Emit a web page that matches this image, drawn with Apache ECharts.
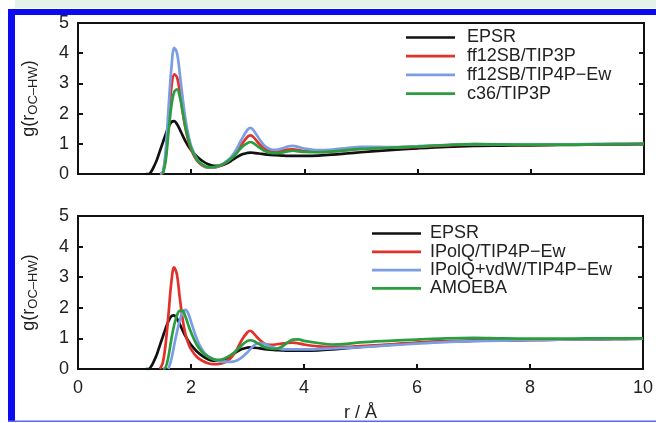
<!DOCTYPE html>
<html>
<head>
<meta charset="utf-8">
<script src="https://cdn.jsdelivr.net/npm/echarts@6/dist/echarts.min.js"></script>
<style>html,body{margin:0;padding:0;background:#fff;}#c{width:656px;height:423px;}</style>
</head>
<body>
<div id="c"></div>
<script>
// r grid (Å)
const r = [1.0,1.2,1.25,1.3,1.35,1.4,1.45,1.5,1.55,1.6,1.65,1.7,1.75,1.8,1.85,1.9,1.95,2.0,2.1,2.2,2.3,2.4,2.5,2.6,2.7,2.8,2.9,3.0,3.05,3.1,3.2,3.3,3.4,3.5,3.6,3.7,3.8,3.9,4.0,4.25,4.5,4.75,5.0,5.5,6.0,6.5,7.0,7.5,8.0,8.5,9.0,9.5,10.0];
const n = null;
// EPSR (both panels)
const gEPSR = [n,0,0,0.1,0.28,0.5,0.78,1.05,1.32,1.56,1.72,1.75,1.65,1.47,1.27,1.08,0.92,0.79,0.58,0.43,0.32,0.27,0.27,0.33,0.43,0.55,0.65,0.70,0.71,0.70,0.68,0.65,0.63,0.62,0.61,0.60,0.60,0.60,0.60,0.61,0.64,0.68,0.72,0.79,0.85,0.90,0.93,0.94,0.95,0.96,0.97,0.98,0.99];
// top panel
const gFF12TIP3P = [n,n,n,n,n,n,0,0.05,0.6,1.8,2.85,3.3,3.2,2.7,2.05,1.5,1.1,0.8,0.45,0.28,0.21,0.21,0.26,0.36,0.5,0.72,1.0,1.24,1.28,1.22,1.0,0.83,0.75,0.74,0.77,0.81,0.82,0.79,0.76,0.73,0.75,0.79,0.83,0.87,0.9,0.95,0.98,0.97,0.96,0.97,0.98,0.99,1.0];
const gFF12TIP4P = [n,n,n,n,n,n,0,0.08,0.8,2.2,3.5,4.18,4.0,3.3,2.5,1.8,1.3,0.92,0.5,0.3,0.22,0.22,0.28,0.39,0.55,0.82,1.18,1.48,1.53,1.45,1.17,0.93,0.82,0.8,0.84,0.91,0.93,0.89,0.84,0.79,0.81,0.86,0.9,0.89,0.92,0.96,0.99,0.98,0.97,0.98,0.99,1.0,1.0];
const gC36TIP3P = [n,n,n,n,n,n,n,0,0.45,1.4,2.25,2.72,2.8,2.55,2.05,1.55,1.15,0.85,0.48,0.3,0.23,0.23,0.28,0.37,0.5,0.68,0.9,1.03,1.06,1.02,0.88,0.76,0.7,0.69,0.71,0.75,0.77,0.75,0.73,0.72,0.75,0.79,0.83,0.87,0.91,0.96,0.99,0.98,0.97,0.97,0.98,0.99,1.0];
// bottom panel
const gIPolQ = [n,n,n,n,n,n,0,0.2,0.8,1.75,2.8,3.32,3.1,2.35,1.65,1.15,0.85,0.65,0.4,0.27,0.19,0.16,0.17,0.22,0.35,0.6,0.95,1.2,1.25,1.18,0.98,0.83,0.79,0.8,0.83,0.85,0.86,0.84,0.8,0.74,0.72,0.72,0.75,0.8,0.86,0.9,0.92,0.94,0.95,0.96,0.97,0.98,0.99];
const gIPolQvdW = [n,n,n,n,n,n,n,n,n,0,0.3,0.75,1.2,1.58,1.84,1.93,1.82,1.55,1.0,0.62,0.42,0.32,0.26,0.23,0.23,0.27,0.38,0.55,0.65,0.75,0.85,0.82,0.74,0.68,0.65,0.64,0.64,0.64,0.64,0.65,0.67,0.69,0.71,0.77,0.83,0.88,0.91,0.93,0.95,0.96,0.97,0.98,0.99];
const gAMOEBA = [n,n,n,n,n,n,n,0,0.05,0.4,0.95,1.42,1.75,1.9,1.9,1.72,1.45,1.2,0.8,0.55,0.4,0.32,0.3,0.35,0.45,0.6,0.78,0.92,0.94,0.92,0.82,0.72,0.67,0.66,0.72,0.85,0.96,0.97,0.92,0.85,0.8,0.82,0.87,0.92,0.96,1.0,1.02,1.0,0.99,0.99,1.0,1.0,1.0];

const yTicks = [0,1,2,3,4,5];
const xTicks = [0,2,4,6,8,10];
const topNames = ['EPSR','ff12SB/TIP3P','ff12SB/TIP4P\u2212Ew','c36/TIP3P'];
const botNames = ['EPSR','IPolQ/TIP4P\u2212Ew','IPolQ+vdW/TIP4P\u2212Ew','AMOEBA'];

const FONT = 'Liberation Sans, Arial, Helvetica, sans-serif';
const COL = {black:'#111111', red:'#e2302b', blue:'#7b9de3', green:'#2a9e3e'};

function pts(g){ return r.map((x,i)=> g[i]===null ? null : [x,g[i]]).filter(p=>p!==null); }

function xAxisCfg(grid, showLabels){
  return {
    type:'value', gridIndex:grid, min:0, max:10, interval:2,
    axisLine:{show:false},
    axisTick:{show:true, inside:true, length:5, lineStyle:{color:'#111', width:2}},
    axisLabel:{show:showLabels, fontSize:18, fontFamily:FONT, color:'#222', margin:10},
    splitLine:{show:false},
    name: showLabels ? 'r / \u00c5' : '',
    nameLocation:'middle', nameGap:35,
    nameTextStyle:{fontSize:18, fontFamily:FONT, color:'#222'}
  };
}
function yAxisCfg(grid, pos){
  const left = pos === 'left';
  return {
    type:'value', gridIndex:grid, position:pos, min:0, max:5, interval:1,
    axisLine:{show:false},
    axisTick:{show:true, inside:true, length:5, lineStyle:{color:'#111', width:2}},
    axisLabel:{show:left, fontSize:18, fontFamily:FONT, color:'#222', margin:9},
    splitLine:{show:false},
    name: left ? '{a|g(r}{b|OC\u2013HW}{a|)}' : '',
    nameLocation:'middle', nameRotate:90, nameGap:38,
    nameTextStyle:{
      fontFamily:FONT, color:'#222',
      rich:{
        a:{fontSize:18, fontFamily:FONT, color:'#222', lineHeight:22},
        b:{fontSize:13, fontFamily:FONT, color:'#222', lineHeight:12, verticalAlign:'bottom'}
      }
    }
  };
}
function line(name, g, color, xi, yi){
  return {
    name, type:'line', xAxisIndex:xi, yAxisIndex:yi, data:pts(g),
    smooth:0.35, showSymbol:false, symbol:'none', color:color,
    lineStyle:{color:color, width:2.7}, itemStyle:{color:color}, silent:true,
    clip:true
  };
}
function legendCfg(names, left, top, gap, padLeft){
  return {
    orient:'vertical', left:left, top:top, padding:0, itemGap:gap,
    icon:'rect', itemWidth:49, itemHeight:2.7,
    data:names,
    textStyle:{fontSize:18, fontFamily:FONT, color:'#222', lineHeight:18, padding:[0,0,0,padLeft]},
    selectedMode:false
  };
}

const chart = echarts.init(document.getElementById('c'), null, {renderer:'canvas'});
chart.setOption({
  backgroundColor:'#ffffff',
  animation:false,
  grid:[
    {left:78, right:12, top:23, height:151, show:true, borderColor:'#111', borderWidth:2, backgroundColor:'transparent'},
    {left:78, right:12, top:216, height:154, show:true, borderColor:'#111', borderWidth:2, backgroundColor:'transparent'}
  ],
  xAxis:[ xAxisCfg(0,false), xAxisCfg(1,true) ],
  yAxis:[ yAxisCfg(0,'left'), yAxisCfg(1,'left'), yAxisCfg(0,'right'), yAxisCfg(1,'right') ],
  legend:[
    legendCfg(topNames, 406, 28.5, 0.7, 7),
    legendCfg(botNames, 372, 224.5, 0.3, 4)
  ],
  series:[
    line('EPSR', gEPSR, COL.black, 0, 0),
    line('ff12SB/TIP3P', gFF12TIP3P, COL.red, 0, 0),
    line('ff12SB/TIP4P\u2212Ew', gFF12TIP4P, COL.blue, 0, 0),
    line('c36/TIP3P', gC36TIP3P, COL.green, 0, 0),
    line('EPSR', gEPSR, COL.black, 1, 1),
    line('IPolQ/TIP4P\u2212Ew', gIPolQ, COL.red, 1, 1),
    line('IPolQ+vdW/TIP4P\u2212Ew', gIPolQvdW, COL.blue, 1, 1),
    line('AMOEBA', gAMOEBA, COL.green, 1, 1)
  ],
  graphic:[
    {type:'rect', z:100, silent:true, shape:{x:15, y:0, width:641, height:8}, style:{fill:'#e4f2ea'}},
    {type:'rect', z:100, silent:true, shape:{x:8, y:9, width:648, height:6}, style:{fill:'#0b0bf2'}},
    {type:'rect', z:100, silent:true, shape:{x:8, y:9, width:7, height:413}, style:{fill:'#0b0bf2'}},
    {type:'rect', z:100, silent:true, shape:{x:8, y:420.5, width:648, height:1.5}, style:{fill:'#5a66f4'}},
    {type:'rect', z:100, silent:true, shape:{x:0, y:422, width:656, height:1}, style:{fill:'#ffffff'}}
  ]
});
</script>
</body>
</html>
